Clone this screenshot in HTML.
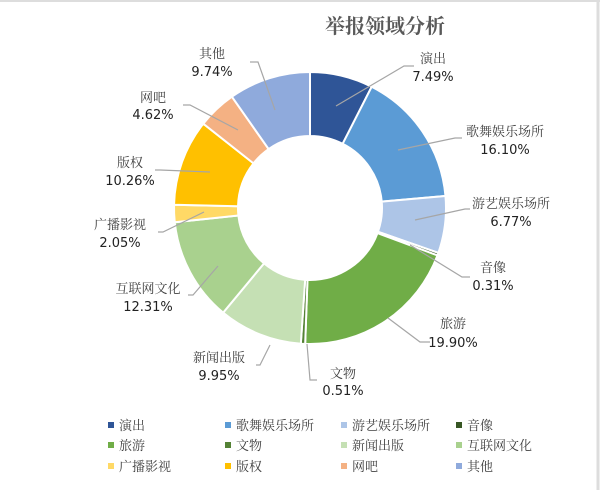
<!DOCTYPE html>
<html><head><meta charset="utf-8"><style>
html,body{margin:0;padding:0;background:#fff;}
svg{display:block;}
text{font-family:"DejaVu Sans","Noto Sans CJK SC",sans-serif;fill:#222;}
.cn{font-family:"Noto Serif CJK SC","Liberation Serif",serif;fill:#404040;}
</style></head><body>
<svg id="s" width="600" height="490" viewBox="0 0 600 490" xmlns="http://www.w3.org/2000/svg">
<rect x="0" y="0" width="600" height="490" fill="#fff"/>
<line x1="0" y1="1" x2="600" y2="1" stroke="#ddd" stroke-width="2"/>
<line x1="598" y1="0" x2="598" y2="490" stroke="#ddd" stroke-width="3"/>
<text x="385" y="33" text-anchor="middle" font-size="20" class="cn" style="fill:#595959;font-weight:bold">举报领域分析</text>
<g id="slices"></g>
<g fill="none" stroke="#a6a6a6" stroke-width="1.2">
<polyline points="336,106 404,66 414,66"/>
<polyline points="398,150 455,138 462,138"/>
<polyline points="415,220 465,209 470,209"/>
<polyline points="410,245 462,277 470,277"/>
<polyline points="388,318 420,342 430,342"/>
<polyline points="307,344 310,380 317,380"/>
<polyline points="270,345 260,365 256,365"/>
<polyline points="218,266 193,295 188,295"/>
<polyline points="204,212 163,232 158,232"/>
<polyline points="210,172 160,170 155,170"/>
<polyline points="238,130 190,105 183,105"/>
<polyline points="275,110 258,62 250,62"/>
</g>
<g font-size="13">
<text class="cn" x="433" y="63" text-anchor="middle">演出</text><text x="433" y="81" text-anchor="middle">7.49%</text>
<text class="cn" x="505" y="136" text-anchor="middle">歌舞娱乐场所</text><text x="505" y="154" text-anchor="middle">16.10%</text>
<text class="cn" x="511" y="208" text-anchor="middle">游艺娱乐场所</text><text x="511" y="226" text-anchor="middle">6.77%</text>
<text class="cn" x="493" y="272" text-anchor="middle">音像</text><text x="493" y="290" text-anchor="middle">0.31%</text>
<text class="cn" x="453" y="328" text-anchor="middle">旅游</text><text x="453" y="347" text-anchor="middle">19.90%</text>
<text class="cn" x="343" y="378" text-anchor="middle">文物</text><text x="343" y="395" text-anchor="middle">0.51%</text>
<text class="cn" x="219" y="362" text-anchor="middle">新闻出版</text><text x="219" y="380" text-anchor="middle">9.95%</text>
<text class="cn" x="148" y="293" text-anchor="middle">互联网文化</text><text x="148" y="311" text-anchor="middle">12.31%</text>
<text class="cn" x="120" y="229" text-anchor="middle">广播影视</text><text x="120" y="247" text-anchor="middle">2.05%</text>
<text class="cn" x="130" y="167" text-anchor="middle">版权</text><text x="130" y="185" text-anchor="middle">10.26%</text>
<text class="cn" x="153" y="102" text-anchor="middle">网吧</text><text x="153" y="119" text-anchor="middle">4.62%</text>
<text class="cn" x="212" y="58" text-anchor="middle">其他</text><text x="212" y="76" text-anchor="middle">9.74%</text>
</g>
<g id="legend" font-size="13"></g>
</svg>
<script>
var data=[["演出",7.49,"#2f5597"],["歌舞娱乐场所",16.10,"#5b9bd5"],["游艺娱乐场所",6.77,"#adc5e7"],["音像",0.31,"#375623"],["旅游",19.90,"#70ad47"],["文物",0.51,"#548235"],["新闻出版",9.95,"#c5e0b4"],["互联网文化",12.31,"#a9d18e"],["广播影视",2.05,"#ffd966"],["版权",10.26,"#ffc000"],["网吧",4.62,"#f4b183"],["其他",9.74,"#8faadc"]];
var NS="http://www.w3.org/2000/svg",cx=310,cy=208,R=136,r=72;
var tot=0;data.forEach(function(d){tot+=d[1];});
var a=0,g=document.getElementById("slices");
function pt(rad,ang){return [cx+rad*Math.sin(ang),cy-rad*Math.cos(ang)];}
data.forEach(function(d){
 var a0=a/tot*2*Math.PI;a+=d[1];var a1=a/tot*2*Math.PI;
 var lg=(a1-a0)>Math.PI?1:0;
 var p1=pt(R,a0),p2=pt(R,a1),p3=pt(r,a1),p4=pt(r,a0);
 var p=document.createElementNS(NS,"path");
 p.setAttribute("d","M"+p1+" A"+R+","+R+" 0 "+lg+" 1 "+p2+" L"+p3+" A"+r+","+r+" 0 "+lg+" 0 "+p4+"Z");
 p.setAttribute("fill",d[2]);p.setAttribute("stroke","#fff");p.setAttribute("stroke-width","2");
 g.appendChild(p);
});
var L=document.getElementById("legend"),xs=[108,225,341,456],ys=[426,446,467];
data.forEach(function(d,i){
 var x=xs[i%4],y=ys[Math.floor(i/4)];
 var s=document.createElementNS(NS,"rect");
 s.setAttribute("x",x);s.setAttribute("y",y-4);s.setAttribute("width",6);s.setAttribute("height",6);s.setAttribute("fill",d[2]);L.appendChild(s);
 var t=document.createElementNS(NS,"text");
 t.setAttribute("x",x+11);t.setAttribute("y",y+4);t.setAttribute("class","cn");t.textContent=d[0];L.appendChild(t);
});
</script>
</body></html>
